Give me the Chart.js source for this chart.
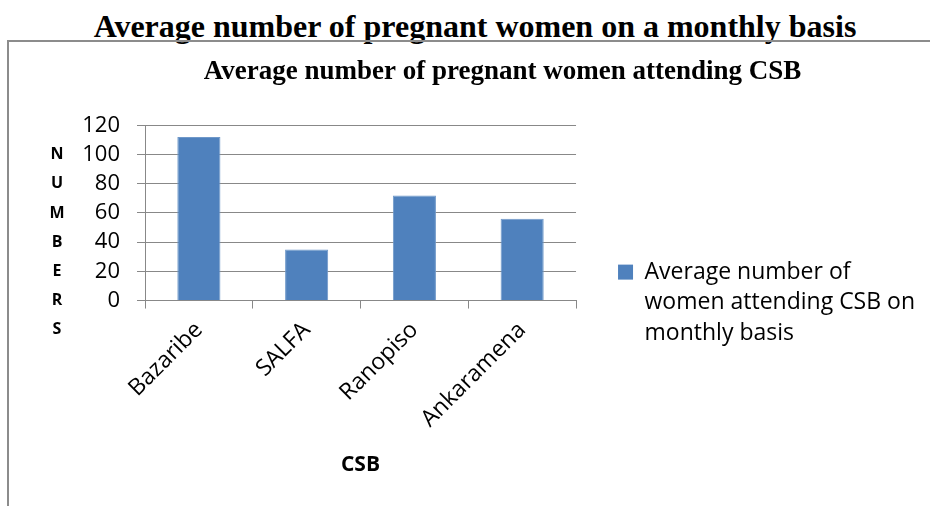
<!DOCTYPE html>
<html>
<head>
<meta charset="utf-8">
<script src="https://cdn.jsdelivr.net/npm/chart.js@4.4.0/dist/chart.umd.min.js"></script>
<style>
    body { margin: 0; background: #fff; width: 930px; height: 506px; overflow: hidden; position: relative; }
    #page-title {
        position: absolute; left: 20px; top: 8px; width: 910px; line-height: 40px;
        text-align: center; font: bold 32px "Liberation Serif", "Times New Roman", serif; color: #000;
    }
    #frame {
        position: absolute; left: 7px; top: 40px; width: 940px; height: 480px;
        border-left: 2px solid #8c8c8c; border-top: 2px solid #8c8c8c;
    }
    #chart-box { position: absolute; left: 10px; top: 42px; width: 920px; height: 464px; }
</style>
</head>
<body>
<div id="page-title">Average number of pregnant women on a monthly basis</div>
<div id="frame"></div>
<div id="chart-box"><canvas id="csbChart"></canvas></div>
<script>
/*
 * Average number of pregnant women attending each CSB (monthly)
 */

const categories = ['Bazaribe', 'SALFA', 'Ranopiso', 'Ankaramena'];
const averageWomen = [112, 35, 72, 56];
const seriesLabel = ['Average number of', 'women attending CSB on', 'monthly basis'];
const axisLetters = ['N', 'U', 'M', 'B', 'E', 'R', 'S'];

const gridGray = '#888888';
const barBlue = '#4F81BD';
const uiFont = 'Open Sans';

// Y axis title is written as a column of letters, one under the other
const stackedYTitle = {
    id: 'stackedYTitle',
    afterDraw(chart) {
        const { ctx, chartArea } = chart;
        const step = (chartArea.bottom - chartArea.top) / 6;
        ctx.save();
        ctx.font = 'bold 16px "' + uiFont + '"';
        ctx.fillStyle = '#000';
        ctx.textAlign = 'center';
        ctx.textBaseline = 'middle';
        axisLetters.forEach((letter, i) => {
            ctx.fillText(letter, chartArea.left - 88, chartArea.top + step * (i + 1));
        });
        ctx.restore();
    }
};

const ctx = document.getElementById('csbChart').getContext('2d');

new Chart(ctx, {
    type: 'bar',
    data: {
        labels: categories,
        datasets: [{
            label: seriesLabel.join(' '),
            data: averageWomen,
            backgroundColor: barBlue,
            borderColor: '#6f98c9',
            borderWidth: 1,
            categoryPercentage: 1,
            barPercentage: 0.4
        }]
    },
    options: {
        responsive: true,
        maintainAspectRatio: false,
        animation: false,
        layout: {
            padding: { left: 70, right: 5, top: 0, bottom: 28 }
        },
        plugins: {
            title: {
                display: true,
                text: 'Average number of pregnant women attending CSB',
                color: '#000',
                font: { family: 'Liberation Serif', size: 27, weight: 'bold' },
                padding: { top: 14, bottom: 37 }
            },
            legend: {
                position: 'right',
                maxWidth: 400,
                // empty legend title only pushes the entry down
                title: {
                    display: true,
                    text: '',
                    font: { size: 10 },
                    padding: { top: 81, bottom: 0 }
                },
                labels: {
                    boxWidth: 15,
                    boxHeight: 15,
                    padding: 42,
                    color: '#000',
                    font: { family: uiFont, size: 23, lineHeight: 1.33 },
                    generateLabels: function(chart) {
                        return [{
                            text: seriesLabel,
                            fillStyle: barBlue,
                            strokeStyle: barBlue,
                            fontColor: '#000',
                            lineWidth: 0,
                            datasetIndex: 0
                        }];
                    }
                }
            },
            tooltip: { enabled: false }
        },
        scales: {
            x: {
                offset: true,
                afterFit: function(scale) {
                    // rotated first label may hang left of the axis, as in the original
                    scale.paddingLeft = 0;
                },
                grid: {
                    offset: true,
                    drawOnChartArea: false,
                    tickLength: 8,
                    color: gridGray
                },
                border: { color: gridGray },
                ticks: {
                    color: '#000',
                    font: { family: uiFont, size: 23 },
                    minRotation: 45,
                    maxRotation: 45,
                    padding: 8
                },
                title: {
                    display: true,
                    text: 'CSB',
                    color: '#000',
                    font: { family: uiFont, size: 21, weight: 'bold' },
                    padding: { top: 12, bottom: 0 }
                }
            },
            y: {
                min: 0,
                max: 120,
                afterFit: function(scale) {
                    scale.width = 65;
                },
                grid: {
                    color: gridGray,
                    tickLength: 8
                },
                border: { color: gridGray },
                ticks: {
                    stepSize: 20,
                    autoSkip: false,
                    color: '#000',
                    font: { family: uiFont, size: 22 },
                    padding: 17
                }
            }
        }
    },
    plugins: [stackedYTitle]
});
</script>
</body>
</html>
